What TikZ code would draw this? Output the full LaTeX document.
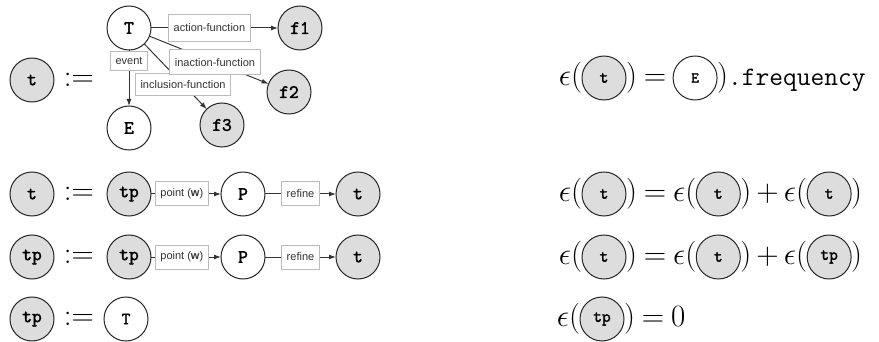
\RequirePackage{fix-cm}
\documentclass[tikz,border=0pt]{standalone}
\usepackage{fontspec}
\setsansfont{Liberation Sans}
\newfontfamily\nodefont{Latin Modern Mono}[FakeBold=2]
\usetikzlibrary{arrows.meta, positioning}
\definecolor{nodefill}{HTML}{DDDDDD}
\definecolor{edgecol}{HTML}{333333}
\definecolor{lblline}{HTML}{BBBBBB}
\newcommand{\eqfont}{\fontsize{31}{31}\selectfont\thickmuskip=4mu\medmuskip=3mu}

\begin{document}
\begin{tikzpicture}[x=1pt, y=-1pt,
        every node/.style={inner sep=0pt, outer sep=0pt},
        var/.style={circle, draw=black!85, line width=1pt, minimum size=44pt, font=\nodefont\bfseries\fontsize{19}{19}\selectfont},
        tok/.style={var, fill=nodefill},
        term/.style={var, fill=white},
        etok/.style={tok, font=\nodefont\bfseries\fontsize{17}{17}\selectfont},
        eterm/.style={term, font=\nodefont\bfseries\fontsize{15}{15}\selectfont},
        lbl/.style={draw=lblline, fill=white, font=\sffamily\fontsize{11}{12}\selectfont, inner xsep=5pt, minimum height=24pt},
        eq/.style={font=\eqfont},
        arr/.style={-{Latex[length=7pt, width=5pt]}, line width=1pt, edgecol},
      ]
      \useasboundingbox (0,0) rectangle (879,342);

      % t := T with its functions
      \node[tok] (t1) at (32,80) {t};
      \node[eq] (def1) at (79,80) {$:=$};
      \node[term] (T1) at (129,28) {T};
      \node[tok] (f1) at (300,28) {f1};
      \node[tok] (f2) at (289,92) {f2};
      \node[term] (E1) at (129,128) {E};
      \node[tok] (f3) at (222,125) {f3};

      \draw[arr] (T1) -- node[lbl, pos=0.2, minimum height=19pt] {event} (E1);
      \draw[arr] (T1) -- node[lbl, pos=0.62, minimum height=22pt] {inclusion-function} (f3);
      \draw[arr] (T1) -- node[lbl, pos=0.55, minimum height=25pt] {inaction-function} (f2);
      \draw[arr] (T1) -- node[lbl, pos=0.46, minimum height=27pt] {action-function} (f1);

      % t := tp -> P -> t
      \node[tok] (t2) at (32,194) {t};
      \node[eq] (def2) at (79,194) {$:=$};
      \node[tok] (tp2) at (129,194) {tp};
      \node[term, right=70pt of tp2] (P2) {P};
      \node[tok, right=71pt of P2] (t2r) {t};
      \draw[arr] (tp2) -- node[lbl, pos=0.44] {point (\textbf{w})} (P2);
      \draw[arr] (P2) -- node[lbl] {refine} (t2r);

      % tp := tp -> P -> t
      \node[tok] (tp3) at (32,257) {tp};
      \node[eq] (def3) at (79,257) {$:=$};
      \node[tok] (tp3l) at (129,257) {tp};
      \node[term, right=70pt of tp3l] (P3) {P};
      \node[tok, right=71pt of P3] (t3r) {t};
      \draw[arr] (tp3l) -- node[lbl, pos=0.44] {point (\textbf{w})} (P3);
      \draw[arr] (P3) -- node[lbl] {refine} (t3r);

      % tp := T
      \node[tok] (tp4) at (32,319) {tp};
      \node[eq] (def4) at (79,319) {$:=$};
      \node[term, font=\nodefont\bfseries\fontsize{17}{17}\selectfont] (T4) at (126,319) {T};

      % equations
      \node[eq, anchor=east] (eps1) at (582,78) {$\epsilon($};
      \node[etok, right=0pt of eps1] (q1) {t};
      \node[eq, right=0pt of q1] (is1) {$)={}$};
      \node[eterm, right=0pt of is1] (qE) {E};
      \node[eq, right=0pt of qE] (rp1) {$)$};
      \node[anchor=base west, font=\ttfamily\fontsize{26.7}{27}\selectfont] (freq) at (rp1.base east) {.frequency};

      \node[eq, anchor=east] (eps2) at (582,194) {$\epsilon($};
      \node[etok, right=0pt of eps2] (q2a) {t};
      \node[eq, right=0pt of q2a] (is2) {$)=\epsilon($};
      \node[etok, right=0pt of is2] (q2b) {t};
      \node[eq, right=0pt of q2b] (plus2) {$)+\epsilon($};
      \node[etok, right=0pt of plus2] (q2c) {t};
      \node[eq, right=0pt of q2c] (rp2) {$)$};

      \node[eq, anchor=east] (eps3) at (582,257) {$\epsilon($};
      \node[etok, right=0pt of eps3] (q3a) {t};
      \node[eq, right=0pt of q3a] (is3) {$)=\epsilon($};
      \node[etok, right=0pt of is3] (q3b) {t};
      \node[eq, right=0pt of q3b] (plus3) {$)+\epsilon($};
      \node[etok, right=0pt of plus3] (q3c) {tp};
      \node[eq, right=0pt of q3c] (rp3) {$)$};

      \node[eq, anchor=east] (eps4) at (580,319) {$\epsilon($};
      \node[etok, right=0pt of eps4] (q4) {tp};
      \node[eq, right=0pt of q4] (is4) {$)=0$};
    \end{tikzpicture}
\end{document}
